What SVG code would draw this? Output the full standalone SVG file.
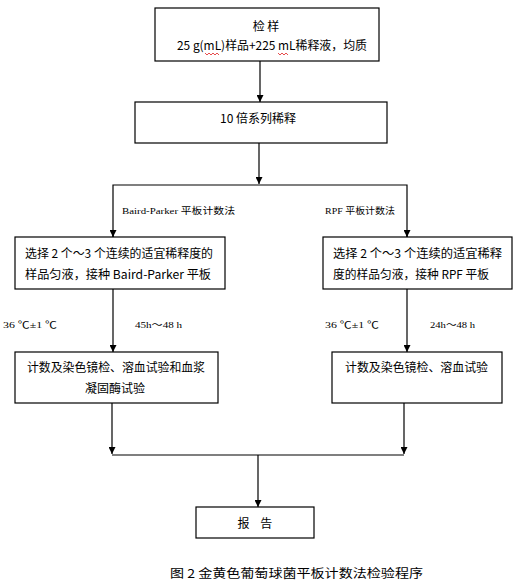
<svg xmlns="http://www.w3.org/2000/svg" width="526" height="585" viewBox="0 0 526 585">
<defs>
<marker id="ah" viewBox="0 0 8 8" refX="8" refY="4" markerWidth="7" markerHeight="7" markerUnits="userSpaceOnUse" orient="auto">
<path d="M0,0 L8,4 L0,8 Z" fill="#000"/>
</marker>
</defs>
<style>
.box{fill:#fff;stroke:#000;stroke-width:1.2}
.t{font-family:"Noto Sans CJK SC","Liberation Sans",sans-serif;font-size:12px;fill:#000}
.s{font-family:"Liberation Serif","Noto Sans CJK SC",serif;font-size:9px;fill:#000}
.c{stroke:#000;stroke-width:1.2;fill:none}
.sq{stroke:#d00;stroke-width:0.7;fill:none}
</style>
<rect width="526" height="585" fill="#fff"/>
<g id="connectors">
<line class="c" x1="260" y1="61" x2="260" y2="102" marker-end="url(#ah)"/>
<line class="c" x1="259" y1="143" x2="259" y2="184" marker-end="url(#ah)"/>
<polyline class="c" points="113,237 113,185 407,185 407,237"/>
<line class="c" x1="113" y1="230" x2="113" y2="237" marker-end="url(#ah)"/>
<line class="c" x1="407" y1="230" x2="407" y2="237" marker-end="url(#ah)"/>
<line class="c" x1="113" y1="289" x2="113" y2="352" marker-end="url(#ah)"/>
<line class="c" x1="407" y1="289" x2="407" y2="352" marker-end="url(#ah)"/>
<line class="c" x1="112" y1="403" x2="112" y2="454" marker-end="url(#ah)"/>
<line class="c" x1="404" y1="403" x2="404" y2="454" marker-end="url(#ah)"/>
<line class="c" x1="112" y1="455" x2="404" y2="455"/>
<line class="c" x1="258" y1="455" x2="258" y2="507" marker-end="url(#ah)"/>
<text class="s" x="122" y="214" textLength="113" lengthAdjust="spacingAndGlyphs">Baird-Parker 平板计数法</text>
<text class="s" x="325" y="214" textLength="70" lengthAdjust="spacingAndGlyphs">RPF 平板计数法</text>
<text class="s" x="3" y="328" textLength="54" lengthAdjust="spacingAndGlyphs">36 ℃±1 ℃</text>
<text class="s" x="135" y="328" textLength="47" lengthAdjust="spacingAndGlyphs">45h～48 h</text>
<text class="s" x="325" y="328" textLength="54" lengthAdjust="spacingAndGlyphs">36 ℃±1 ℃</text>
<text class="s" x="430" y="328" textLength="45" lengthAdjust="spacingAndGlyphs">24h～48 h</text>
</g>
<g id="n1">
<rect class="box" x="155" y="8" width="224" height="53"/>
<text class="t" x="266" y="31" text-anchor="middle" style="white-space:pre">检 样</text>
<text class="t" x="177" y="50" textLength="190" lengthAdjust="spacingAndGlyphs">25 g(mL)样品+225 mL稀释液，均质</text>
<path class="sq" d="M205,53 l2,2 l2,-2 l2,2 l2,-2 l2,2 l2,-2 l2,2"/>
<path class="sq" d="M278,53 l2,2 l2,-2 l2,2 l2,-2 l2,2"/>
</g>
<g id="n2">
<rect class="box" x="135" y="102" width="252" height="41"/>
<text class="t" x="258" y="123" text-anchor="middle">10 倍系列稀释</text>
</g>
<g id="n3">
<rect class="box" x="15" y="237" width="210" height="52"/>
<text class="t" x="25" y="258" textLength="188" lengthAdjust="spacingAndGlyphs">选择 2 个～3 个连续的适宜稀释度的</text>
<text class="t" x="25" y="279" textLength="186" lengthAdjust="spacingAndGlyphs">样品匀液，接种 Baird-Parker 平板</text>
</g>
<g id="n4">
<rect class="box" x="323" y="237" width="189" height="52"/>
<text class="t" x="333" y="258" textLength="169" lengthAdjust="spacingAndGlyphs">选择 2 个～3 个连续的适宜稀释</text>
<text class="t" x="333" y="279" textLength="156" lengthAdjust="spacingAndGlyphs">度的样品匀液，接种 RPF 平板</text>
</g>
<g id="n5">
<rect class="box" x="15" y="352" width="203" height="51"/>
<text class="t" x="27" y="372" textLength="178" lengthAdjust="spacingAndGlyphs">计数及染色镜检、溶血试验和血浆</text>
<text class="t" x="115" y="393" text-anchor="middle">凝固酶试验</text>
</g>
<g id="n6">
<rect class="box" x="332" y="352" width="170" height="51"/>
<text class="t" x="345" y="372" textLength="143" lengthAdjust="spacingAndGlyphs">计数及染色镜检、溶血试验</text>
</g>
<g id="n7">
<rect class="box" x="196" y="507" width="118" height="31"/>
<text class="t" x="255" y="528" text-anchor="middle" style="white-space:pre">报    告</text>
</g>
<text class="t" x="170" y="578" textLength="253" lengthAdjust="spacingAndGlyphs" style="white-space:pre">图 2 金黄色葡萄球菌平板计数法检验程序</text>
</svg>
